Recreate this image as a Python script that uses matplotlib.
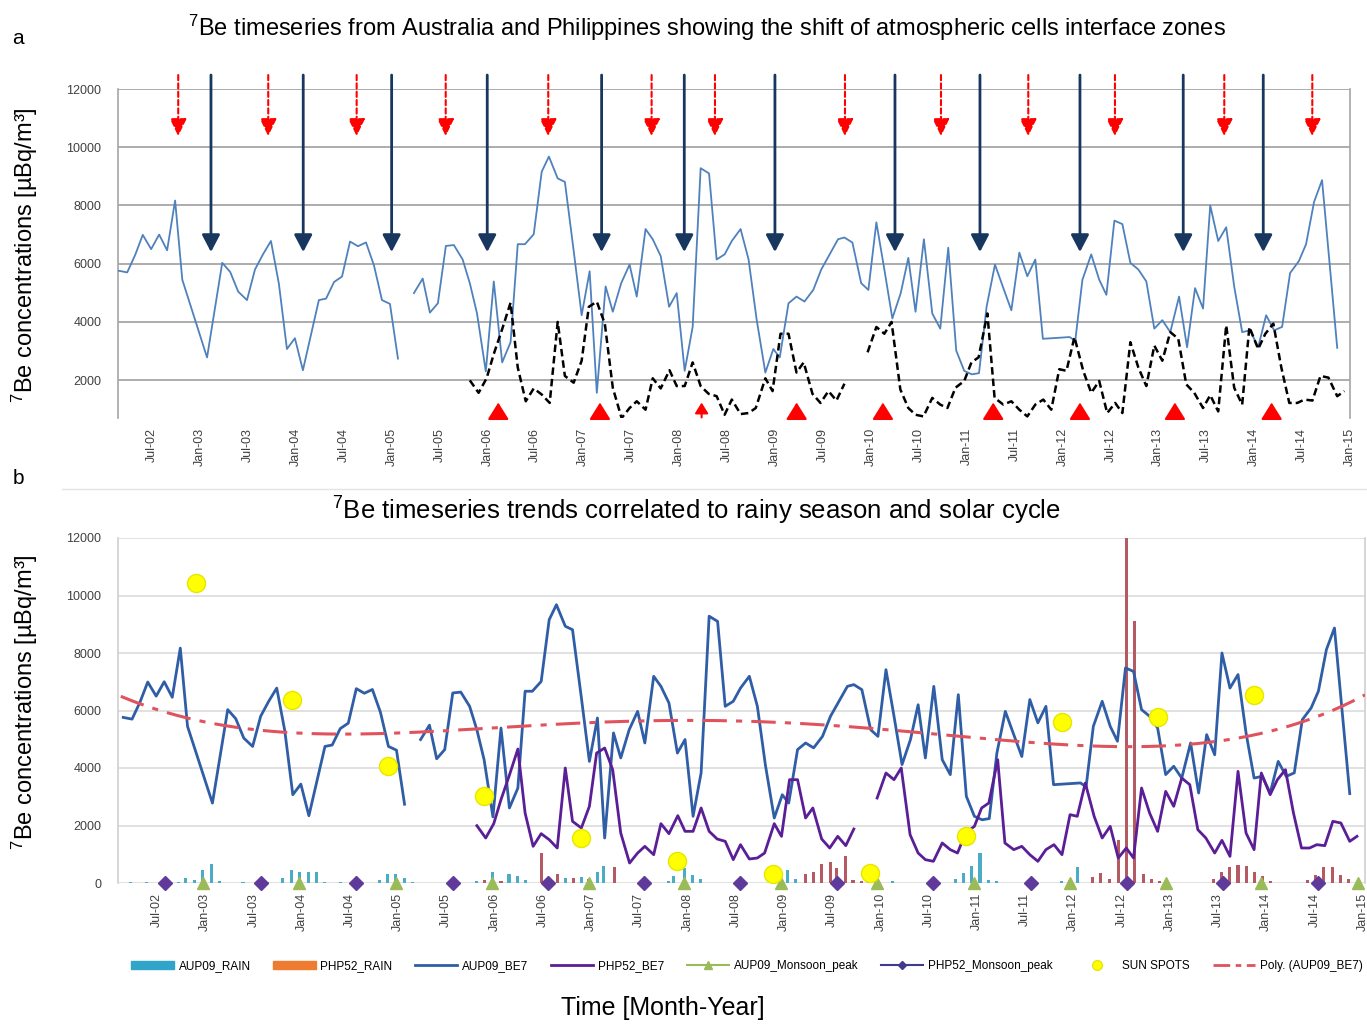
import numpy as np
import matplotlib
matplotlib.use("Agg")
import matplotlib.pyplot as plt
from matplotlib.lines import Line2D
from matplotlib.patches import Patch

plt.rcParams['font.family'] = ['Liberation Sans', 'DejaVu Sans']
plt.rcParams['mathtext.fontset'] = 'custom'
plt.rcParams['mathtext.rm'] = 'Liberation Sans'
plt.rcParams['mathtext.it'] = 'Liberation Sans:italic'
plt.rcParams['mathtext.bf'] = 'Liberation Sans:bold'
NARROW = ['Liberation Sans Narrow', 'Liberation Sans', 'DejaVu Sans']

# ---------------------------------------------------------------- data
# time axis: months counted from Jan-2002 (Jan-02 = 0)
tick_month = [6, 12, 18, 24, 30, 36, 42, 48, 54, 60, 66, 72, 78, 84, 90, 96,
              102, 108, 114, 120, 126, 132, 138, 144, 150, 156]
tick_labels = ["Jul-02", "Jan-03", "Jul-03", "Jan-04", "Jul-04", "Jan-05",
               "Jul-05", "Jan-06", "Jul-06", "Jan-07", "Jul-07", "Jan-08",
               "Jul-08", "Jan-09", "Jul-09", "Jan-10", "Jul-10", "Jan-11",
               "Jul-11", "Jan-12", "Jul-12", "Jan-13", "Jul-13", "Jan-14",
               "Jul-14", "Jan-15"]

# AUP09 (Australia) 7Be, uBq/m3  (nan = break in the record)
aup_month = [1.8, 2.9, 3.9, 4.85, 5.9, 6.9, 7.9, 8.9, 9.8, 12.9, 14.8, 15.8,
             16.8, 17.9, 18.9, 19.9, 20.9, 21.9, 22.9, 23.9, 24.9, 25.9, 26.9,
             27.8, 28.8, 29.8, 30.8, 31.8, 32.8, 33.8, 34.8, 35.8, 36.8, 37.8,
             38.8, 39.9, 40.8, 41.8, 42.8, 43.8, 44.9, 45.8, 46.7, 47.8, 48.8,
             49.85, 50.9, 51.8, 52.7, 53.8, 54.8, 55.7, 56.8, 57.7, 58.8, 59.8,
             60.8, 61.7, 62.8, 63.7, 64.75, 65.8, 66.7, 67.8, 68.7, 69.7,
             70.75, 71.7, 72.7, 73.7, 74.7, 75.75, 76.7, 77.7, 78.6, 79.7,
             80.7, 81.7, 82.8, 83.8, 84.6, 85.7, 86.7, 87.7, 88.8, 89.8,
             90.85, 91.9, 92.7, 93.7, 94.8, 95.7, 96.7, 97.7, 98.7, 99.75,
             100.7, 101.6, 102.65, 103.7, 104.7, 105.7, 106.7, 107.7, 108.65,
             109.55, 110.5, 111.55, 112.6, 113.6, 114.6, 115.6, 116.6, 117.55,
             120.9, 121.6, 122.5, 123.6, 124.6, 125.5, 126.5, 127.5, 128.5,
             129.5, 130.5, 131.5, 132.5, 133.5, 134.6, 135.6, 136.6, 137.6,
             138.5, 139.5, 140.5, 141.5, 142.5, 143.5, 144.5, 145.5, 146.5,
             147.5, 148.5, 149.6, 150.5, 151.5, 152.5, 154.4]
aup_be7 = [5760, 5700, 6300, 6990, 6500, 7000, 6460, 8170, 5450, 2780, 6030,
           5715, 5040, 4750, 5800, 6320, 6780, 5300, 3070, 3440, 2340, 3550,
           4750, 4800, 5370, 5560, 6760, 6600, 6730, 5940, 4750, 4620, 2740,
           np.nan, 4990, 5490, 4320, 4640, 6610, 6640, 6145, 5330, 4290, 2300,
           5390, 2610, 3300, 6670, 6670, 7010, 9160, 9680, 8930, 8810, 6450,
           4230, 5740, 1565, 5220, 4350, 5330, 5970, 4870, 7190, 6840, 6260,
           4520, 4990, 2320, 3830, 9280, 9100, 6145, 6320, 6780, 7190, 6145,
           4100, 2260, 3070, 2780, 4640, 4870, 4700, 5100, 5800, 6320, 6840,
           6900, 6725, 5330, 5100, 7420, 5800, 4120, 4990, 6200, 4350, 6840,
           4290, 3770, 6550, 3015, 2320, 2200, 2240, 4520, 5970, 5160, 4400,
           6380, 5570, 6145, 3420, 3480, 3350, 5450, 6320, 5450, 4930, 7480,
           7360, 6030, 5800, 5390, 3770, 4060, 3650, 4870, 3130, 5160, 4460,
           8000, 6780, 7250, 5220, 3650, 3710, 3130, 4230, 3710, 3830, 5680,
           6090, 6670, 8120, 8870, 3110]

# PHP52 (Philippines) 7Be, uBq/m3
php_month = [45.8, 46.9, 47.9, 48.8, 49.8, 50.9, 51.8, 52.8, 53.8, 54.8, 55.8,
             56.8, 57.7, 58.8, 59.8, 60.7, 61.7, 62.7, 63.7, 64.8, 65.8, 66.7,
             67.8, 68.7, 69.7, 70.8, 71.7, 72.7, 73.7, 74.7, 75.7, 76.7, 77.7,
             78.6, 79.7, 80.7, 81.6, 82.8, 83.7, 84.7, 85.7, 86.7, 87.6, 88.7,
             89.7, 90.7, 91.7, 92.7, 94.2, 95.6, 96.7, 97.7, 98.6, 99.7, 100.7,
             101.6, 102.6, 103.7, 104.7, 105.6, 106.6, 107.7, 108.6, 109.5,
             110.6, 111.5, 112.6, 113.6, 114.6, 115.6, 116.6, 117.6, 118.6,
             119.6, 120.5, 121.5, 122.6, 123.6, 124.6, 125.6, 126.6, 127.5,
             128.5, 129.5, 130.5, 131.5, 132.5, 133.5, 134.5, 135.5, 136.5,
             137.6, 138.5, 139.5, 140.5, 141.5, 142.5, 143.4, 144.5, 145.4,
             146.4, 147.4, 148.4, 149.4, 150.3, 151.3, 152.3, 153.3, 154.4,
             155.3]
php_be7 = [1994, 1565, 2064, 2900, 3710, 4660, 2435, 1275, 1716, 1507, 1217,
           4000, 2145, 1913, 2667, 4520, 4695, 3940, 1740, 695, 1043, 1275,
           985, 2064, 1716, 2342, 1797, 1797, 2609, 1797, 1530, 1450, 812,
           1333, 835, 870, 1043, 2064, 1623, 3594, 3594, 2261, 2609, 1530,
           1217, 1623, 1299, 1878, np.nan, 2956, 3826, 3594, 4000, 1681, 1043,
           812, 754, 1391, 1160, 1043, 1739, 1971, 2609, 2783, 4290, 1391,
           1160, 1275, 985, 754, 1160, 1333, 985, 2377, 2320, 3478, 2320,
           1565, 1971, 870, 1217, 870, 3304, 2435, 1797, 3188, 2667, 3650,
           3420, 1855, 1565, 1043, 1484, 927, 3884, 1739, 1160, 3826, 3072,
           3594, 3942, 2435, 1217, 1217, 1333, 1299, 2145, 2087, 1449, 1623]

# monthly rainfall (plotted on the concentration scale)
aup_rain_month = [2.7, 4.7, 6.7, 8.7, 9.6, 10.7, 11.7, 12.75, 13.8, 16.7, 19.7,
                  21.65, 22.7, 23.7, 24.8, 25.8, 26.8, 28.8, 33.7, 34.7, 35.7,
                  36.8, 37.8, 45.7, 47.7, 49.8, 50.8, 51.9, 56.8, 58.8, 60.8,
                  61.6, 69.6, 70.3, 71.6, 72.6, 73.6, 83.5, 84.4, 85.5, 94.5,
                  95.5, 97.5, 105.4, 106.4, 107.4, 108.4, 109.5, 110.5, 118.5,
                  119.5, 120.5]
aup_rain = [30, 25, 30, 40, 160, 100, 450, 650, 70, 30, 25, 190, 450, 390, 370,
            370, 50, 30, 100, 300, 300, 190, 40, 60, 390, 300, 250, 100, 180,
            200, 390, 600, 60, 255, 530, 280, 140, 60, 450, 150, 120, 300, 80,
            150, 335, 600, 1030, 100, 60, 80, 120, 570]
php_rain_month = [46.7, 48.8, 53.8, 54.8, 55.85, 57.8, 59.7, 62.9, 86.7, 87.7,
                  88.7, 89.8, 90.6, 91.7, 92.6, 93.6, 122.4, 123.4, 124.5,
                  125.6, 126.6, 127.6, 128.7, 129.7, 130.7, 137.5, 138.5, 139.4,
                  140.5, 141.5, 142.5, 143.5, 144.5, 149.1, 150.1, 151.1, 152.2,
                  153.2, 154.2]
php_rain = [100, 80, 1050, 120, 300, 180, 150, 545, 300, 370, 650, 720, 510,
            950, 100, 60, 200, 335, 150, 1500, 13000, 9100, 300, 150, 80, 150,
            390, 570, 630, 600, 370, 250, 80, 100, 280, 570, 545, 280, 150]

# monsoon peaks (drawn on the zero line)
aup_peak_month = [11.7, 23.7, 35.7, 47.7, 59.8, 71.6, 83.6, 95.6, 107.6, 119.6,
                  131.6, 143.4, 155.4]
aup_peak = [0, 0, 0, 0, 0, 0, 0, 0, 0, 0, 0, 0, 0]
php_peak_month = [6.96, 18.9, 30.7, 42.8, 54.6, 66.6, 78.6, 90.6, 102.6, 114.7,
                  126.7, 138.6, 150.4]
php_peak = [0, 0, 0, 0, 0, 0, 0, 0, 0, 0, 0, 0, 0]

# yearly sunspot numbers (scaled)
sun_month = [10.9, 22.8, 34.7, 46.7, 58.8, 70.7, 82.7, 94.7, 106.7, 118.6,
             130.5, 142.5]
sun_spots = [10430, 6380, 4060, 3010, 1550, 750, 330, 350, 1620, 5590, 5760,
             6530]

# interface-zone shifts marked in panel a
red_shift_month = [9.29, 20.56, 31.63, 42.78, 55.62, 68.56, 76.49, 92.77,
                   104.79, 115.72, 126.57, 140.26, 151.28]
navy_shift_month = [13.39, 24.94, 36.01, 47.98, 62.3, 72.65, 84.0, 99.03,
                    109.67, 122.19, 135.12, 145.14]
up_mark_month = [49.36, 62.09, 74.82, 86.72, 97.52, 111.33, 122.19, 134.08,
                 146.19]
up_mark_scale = [13, 13, 8, 13, 13, 13, 13, 13, 13]

# ---------------------------------------------------------------- figure
W, H = 1367, 1024
fig = plt.figure(figsize=(W / 100, H / 100), dpi=100)


def fx(px):
    return px / W


def fy(py):
    return 1 - py / H


ax_a = fig.add_axes([fx(118), fy(418), fx(1232), (418 - 89) / H])
ax_b = fig.add_axes([fx(118), fy(883), fx(1247), (883 - 538) / H])

aup_m = np.array(aup_month)
aup_v = np.array(aup_be7, dtype=float)
php_m = np.array(php_month)
php_v = np.array(php_be7, dtype=float)

# ---- panel a
ax_a.set_xlim(1.75, 156)
ax_a.set_ylim(700, 12000)
ax_a.set_yticks([2000, 4000, 6000, 8000, 10000, 12000])
ax_a.yaxis.grid(True, color='#A6A6A6', lw=1.3)
ax_a.set_axisbelow(True)
ax_a.plot(aup_m, aup_v, color='#4F81BD', lw=1.3, zorder=3)
ax_a.plot(php_m, php_v, color='black', lw=1.8, ls=(0, (3, 1.6)), zorder=3)

ARROW_TOP = 12480
for m in red_shift_month:
    ax_a.annotate('', xy=(m, 10380), xytext=(m, ARROW_TOP),
                  arrowprops=dict(arrowstyle='-|>,head_length=0.75,head_width=0.36',
                                  mutation_scale=14, color='#FF0000', lw=1.5,
                                  ls=(0, (2.5, 1.5)), shrinkA=0, shrinkB=0),
                  annotation_clip=False, zorder=5)
for m in navy_shift_month:
    ax_a.annotate('', xy=(m, 6400), xytext=(m, ARROW_TOP),
                  arrowprops=dict(arrowstyle='-|>,head_length=0.8,head_width=0.42',
                                  mutation_scale=13, color='#17375E', lw=2.0,
                                  shrinkA=0, shrinkB=0),
                  annotation_clip=False, zorder=5)
for m, s in zip(up_mark_month, up_mark_scale):
    ax_a.annotate('', xy=(m, 1230), xytext=(m, 720),
                  arrowprops=dict(arrowstyle='-|>,head_length=0.8,head_width=0.5',
                                  mutation_scale=s, color='#FF0000', lw=1.5,
                                  shrinkA=0, shrinkB=0),
                  annotation_clip=False, zorder=5)

# ---- panel b
ax_b.set_xlim(1.15, 156.3)
ax_b.set_ylim(0, 12000)
ax_b.set_yticks([0, 2000, 4000, 6000, 8000, 10000, 12000])
ax_b.yaxis.grid(True, color='#D9D9D9', lw=1.1)
ax_b.set_axisbelow(True)
ax_b.bar(aup_rain_month, aup_rain, width=0.38, color='#4BACC6', zorder=2)
ax_b.bar(php_rain_month, php_rain, width=0.38, color='#B55A63', zorder=2)
ax_b.plot(aup_m, aup_v, color='#2F5DA6', lw=2.0, zorder=3)
ax_b.plot(php_m, php_v, color='#5A1E96', lw=2.0, zorder=3)
ax_b.plot(aup_peak_month, aup_peak, ls='none', marker='^', ms=9,
          color='#9BBB59', zorder=5, clip_on=False)
ax_b.plot(php_peak_month, php_peak, ls='none', marker='D', ms=7,
          color='#5F3A9B', zorder=5, clip_on=False)
ax_b.plot(sun_month, sun_spots, ls='none', marker='o', ms=13,
          mfc='#FFFF00', mec='#E6E600', mew=1, zorder=6)

# 4th-order polynomial trendline of the AUP09 record, carried to the axis ends
ok = ~np.isnan(aup_v)
coef = np.polyfit((aup_m[ok] - 78) / 78, aup_v[ok], 4)
t = np.linspace(1.5, 156.3, 400)
ax_b.plot(t, np.polyval(coef, (t - 78) / 78), color='#E0525C', lw=2.2,
          ls=(0, (8, 3, 2, 3)), zorder=7)

for ax, col in ((ax_a, '#A6A6A6'), (ax_b, '#D0D0D0')):
    ax.set_xticks(tick_month)
    ax.set_xticklabels(tick_labels, rotation=90, fontsize=9, color='#404040')
    ax.tick_params(axis='both', length=0, labelsize=9, labelcolor='#404040')
    ax.tick_params(axis='y', pad=12)
    ax.tick_params(axis='x', pad=7)
    for side in ('top', 'bottom'):
        ax.spines[side].set_visible(False)
    for side in ('left', 'right'):
        ax.spines[side].set_color(col)
        ax.spines[side].set_linewidth(1.2)

# ---- text
fig.text(fx(707), fy(28),
         r'$^7$Be timeseries from Australia and Philippines showing the shift of atmospheric cells interface zones',
         ha='center', va='center', fontsize=17, family=NARROW)
fig.text(fx(696), fy(511),
         r'$^7$Be timeseries trends correlated to rainy season and solar cycle',
         ha='center', va='center', fontsize=18.5, family=NARROW)
fig.text(fx(18), fy(38), 'a', ha='center', va='center', fontsize=15)
fig.text(fx(18), fy(478), 'b', ha='center', va='center', fontsize=15)
for yc in (255, 702):
    fig.text(fx(25), fy(yc), r'$^7$Be concentrations [µBq/m³]', rotation=90,
             ha='center', va='center', fontsize=17)
fig.text(fx(663), fy(1008), 'Time [Month-Year]', ha='center', va='center',
         fontsize=18, family=NARROW)
fig.add_artist(Line2D([fx(62), 1], [fy(489), fy(489)], color='#E4E4E4', lw=1))

handles = [
    Patch(color='#31A5C9'),
    Patch(color='#EE7B30'),
    Line2D([], [], color='#2F5DA6', lw=2),
    Line2D([], [], color='#5A1E96', lw=2),
    Line2D([], [], color='#9BBB59', lw=1.5, marker='^', ms=6),
    Line2D([], [], color='#3F3A8B', lw=1.5, marker='D', ms=4),
    Line2D([], [], ls='none', marker='o', ms=7, mfc='#FFFF00', mec='#E6E600'),
    Line2D([], [], color='#E0525C', lw=2, ls=(0, (6, 2, 2, 2))),
]
names = ['AUP09_RAIN', 'PHP52_RAIN', 'AUP09_BE7', 'PHP52_BE7',
         'AUP09_Monsoon_peak', 'PHP52_Monsoon_peak', 'SUN SPOTS',
         'Poly. (AUP09_BE7)']
fig.legend(handles, names, loc='center', bbox_to_anchor=(fx(747), fy(966)),
           ncol=8, frameon=False, handlelength=3.6,
           handletextpad=0.4, columnspacing=1.9,
           prop={'family': NARROW, 'size': 8.5})

fig.savefig('out.png', dpi=100)
